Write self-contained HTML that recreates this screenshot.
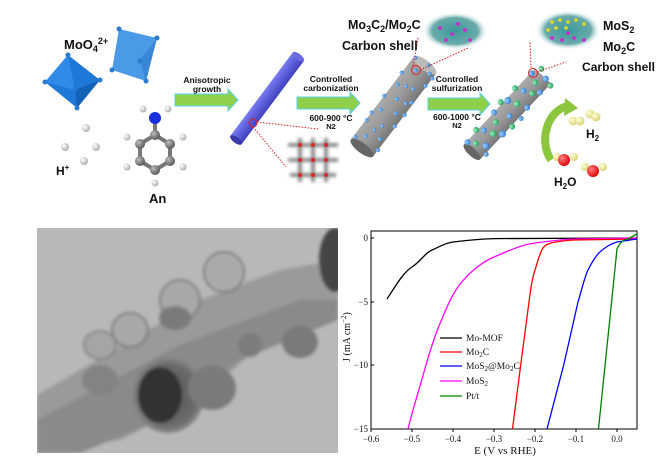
<!DOCTYPE html>
<html><head><meta charset="utf-8"><style>
html,body{margin:0;padding:0;background:#fff;}
svg{display:block;}
text{font-family:"Liberation Sans",sans-serif;}
text.b,.b text{font-weight:bold;fill:#111;}
text.m,.m text{font-family:"Liberation Serif",serif;fill:#111;font-weight:normal;}
</style></head><body>
<svg width="656" height="461" viewBox="0 0 656 461" xmlns="http://www.w3.org/2000/svg">
<defs>
<radialGradient id="bl" cx="0.35" cy="0.35" r="0.7"><stop offset="0" stop-color="#9fd0ff"/><stop offset="1" stop-color="#2a7ad0"/></radialGradient>
<radialGradient id="gr" cx="0.35" cy="0.35" r="0.7"><stop offset="0" stop-color="#a0f0c0"/><stop offset="1" stop-color="#1a9a55"/></radialGradient>
<radialGradient id="wh" cx="0.35" cy="0.35" r="0.7"><stop offset="0" stop-color="#fff"/><stop offset="1" stop-color="#aaa"/></radialGradient>
<radialGradient id="gy" cx="0.35" cy="0.35" r="0.7"><stop offset="0" stop-color="#bbb"/><stop offset="1" stop-color="#555"/></radialGradient>
<radialGradient id="ye" cx="0.35" cy="0.35" r="0.7"><stop offset="0" stop-color="#ffffd8"/><stop offset="1" stop-color="#d8d070"/></radialGradient>
<radialGradient id="rd" cx="0.35" cy="0.35" r="0.7"><stop offset="0" stop-color="#ff8080"/><stop offset="1" stop-color="#d00"/></radialGradient>
<radialGradient id="cl" cx="0.5" cy="0.5" r="0.5"><stop offset="0" stop-color="#3a9a9a"/><stop offset="0.7" stop-color="#6aaaaa"/><stop offset="1" stop-color="#fff" stop-opacity="0"/></radialGradient>
<radialGradient id="tem" cx="0.5" cy="0.5" r="0.5"><stop offset="0" stop-color="#555"/><stop offset="0.8" stop-color="#6a6a6a"/><stop offset="1" stop-color="#888"/></radialGradient>
<linearGradient id="tube" x1="0" y1="0" x2="0" y2="1"><stop offset="0" stop-color="#aaa"/><stop offset="0.5" stop-color="#999"/><stop offset="1" stop-color="#777"/></linearGradient>
<linearGradient id="rod" x1="0" y1="0" x2="0" y2="1"><stop offset="0" stop-color="#7a7af0"/><stop offset="1" stop-color="#4040c0"/></linearGradient>
<filter id="bf"><feGaussianBlur stdDeviation="1.5"/></filter>
</defs>

<!-- octahedra -->
<polygon points="45,82 68,55 100,80 77,108" fill="#1e78d8"/>
<polygon points="45,82 68,55 75,90" fill="#2f8ae8"/>
<polygon points="75,90 100,80 77,108" fill="#1462b8"/>
<g fill="#2a7ad0"><circle cx="45" cy="82" r="2.5"/><circle cx="68" cy="55" r="2.5"/><circle cx="100" cy="80" r="2.5"/><circle cx="77" cy="108" r="2.5"/><circle cx="75" cy="89" r="2.5"/></g>
<polygon points="112,70 119,29 157,38 146,81" fill="#4a9ae8"/>
<polygon points="140,60 157,38 146,81" fill="#3a86d6"/>
<g fill="#2a7ad0"><circle cx="112" cy="70" r="2.5"/><circle cx="119" cy="29" r="2.5"/><circle cx="157" cy="38" r="2.5"/><circle cx="146" cy="81" r="2.5"/><circle cx="140" cy="61" r="2.5"/></g>
<text class="b" x="64" y="49" font-size="13">MoO<tspan font-size="9" dy="3">4</tspan><tspan font-size="9" dy="-8">2+</tspan></text>
<!-- H+ -->
<g fill="url(#wh)"><circle cx="86" cy="128" r="4"/><circle cx="65" cy="147" r="4"/><circle cx="96" cy="147" r="4"/><circle cx="84" cy="161" r="4"/></g>
<text class="b" x="56" y="175" font-size="12">H<tspan font-size="8" dy="-5">+</tspan></text>
<!-- aniline -->
<g stroke="#777" stroke-width="4" fill="none"><polygon points="155,135 170,144 170,161 155,170 140,161 140,144"/><line x1="155" y1="135" x2="155" y2="120"/></g>
<g fill="url(#wh)"><circle cx="183" cy="137" r="3.5"/><circle cx="127" cy="137" r="3.5"/><circle cx="183" cy="167" r="3.5"/><circle cx="127" cy="167" r="3.5"/><circle cx="155" cy="183" r="3.5"/><circle cx="143" cy="109" r="3.5"/><circle cx="168" cy="109" r="3.5"/></g>
<g fill="url(#gy)"><circle cx="155" cy="135" r="5"/><circle cx="170" cy="144" r="5"/><circle cx="170" cy="161" r="5"/><circle cx="155" cy="170" r="5"/><circle cx="140" cy="161" r="5"/><circle cx="140" cy="144" r="5"/></g>
<circle cx="155" cy="118" r="6" fill="#1a2ee0"/>
<text class="b" x="149" y="203" font-size="13">An</text>

<!-- arrows -->
<g fill="#8fcf4a" stroke="#5ad0ea" stroke-width="1">
<polygon points="175,94 228,94 228,89 238,100 228,111 228,106 175,106"/>
<polygon points="297,97 350,97 350,92 360,103 350,114 350,109 297,109"/>
<polygon points="428,98 480,98 480,93 490,104 480,115 480,110 428,110"/>
</g>
<g class="b" font-size="8.5" text-anchor="middle">
<text x="207" y="83">Anisotropic</text><text x="207" y="92">growth</text>
<text x="331" y="82">Controlled</text><text x="331" y="91">carbonization</text>
<text x="331" y="121">600-900 °C</text><text x="331" y="129" font-size="7.5">N2</text>
<text x="457" y="82">Controlled</text><text x="457" y="91">sulfurization</text>
<text x="457" y="120">600-1000 °C</text><text x="457" y="128" font-size="7.5">N2</text>
</g>

<!-- purple rod -->
<g transform="translate(236,140) rotate(-53.2)">
<rect x="0" y="-7" width="104" height="14" fill="url(#rod)"/>
<ellipse cx="104" cy="0" rx="3" ry="7" fill="#6a6ae0"/>
<ellipse cx="0" cy="0" rx="3" ry="7" fill="#3838a8"/>
</g>
<circle cx="253" cy="123" r="4" fill="none" stroke="#e02020" stroke-width="1"/>
<g stroke="#e02020" stroke-width="1" stroke-dasharray="1.5,1.5"><line x1="257" y1="122" x2="318" y2="129"/><line x1="253" y1="127" x2="286" y2="167"/></g>
<!-- lattice -->
<g filter="url(#bf)">
<g stroke="#777" stroke-width="4" opacity="0.85">
<line x1="288" y1="145" x2="338" y2="145"/><line x1="288" y1="160" x2="338" y2="160"/><line x1="290" y1="175" x2="336" y2="175"/>
<line x1="300" y1="138" x2="300" y2="182"/><line x1="313" y1="138" x2="313" y2="182"/><line x1="326" y1="138" x2="326" y2="182"/>
</g>
</g>
<g fill="#d03030"><circle cx="300" cy="145" r="2.2"/><circle cx="313" cy="145" r="2.2"/><circle cx="326" cy="145" r="2.2"/><circle cx="300" cy="160" r="2.2"/><circle cx="313" cy="160" r="2.2"/><circle cx="326" cy="160" r="2.2"/><circle cx="300" cy="175" r="2.2"/><circle cx="313" cy="175" r="2.2"/><circle cx="326" cy="175" r="2.2"/></g>

<!-- grey tube 1 -->
<g transform="translate(362,148) rotate(-52.8)">
<rect x="0" y="-14" width="104" height="28" fill="url(#tube)"/>
<ellipse cx="104" cy="0" rx="5" ry="14" fill="#bbb"/>
<ellipse cx="0" cy="0" rx="5" ry="14" fill="#666"/>
<g fill="url(#bl)">
<circle cx="5" cy="-12" r="2"/><circle cx="12" cy="-4" r="2"/><circle cx="18" cy="9" r="2"/><circle cx="25" cy="-13" r="2"/><circle cx="30" cy="3" r="2"/><circle cx="37" cy="13" r="2"/><circle cx="42" cy="-8" r="2"/><circle cx="48" cy="6" r="2"/><circle cx="55" cy="-14" r="2"/><circle cx="60" cy="-2" r="2"/><circle cx="66" cy="12" r="2"/><circle cx="72" cy="-10" r="2"/><circle cx="78" cy="5" r="2"/><circle cx="84" cy="-14" r="2"/><circle cx="88" cy="13" r="2"/><circle cx="94" cy="-4" r="2"/><circle cx="100" cy="9" r="2"/><circle cx="104" cy="-12" r="2"/><circle cx="8" cy="14" r="2"/><circle cx="22" cy="-1" r="2"/><circle cx="52" cy="14" r="2"/><circle cx="76" cy="-2" r="2"/><circle cx="98" cy="14" r="2"/><circle cx="106" cy="3" r="2"/><circle cx="34" cy="-14" r="2"/><circle cx="62" cy="8" r="2"/>
</g>
</g>
<circle cx="416" cy="70" r="4.5" fill="none" stroke="#e02020" stroke-width="1"/>
<g stroke="#e02020" stroke-width="1" stroke-dasharray="1.5,1.5"><line x1="413" y1="66" x2="418" y2="38"/><line x1="420" y1="70" x2="468" y2="48"/></g>
<ellipse cx="455" cy="31" rx="33" ry="19" fill="url(#cl)"/>
<g fill="#d020d0"><circle cx="440" cy="28" r="1.8"/><circle cx="452" cy="34" r="1.8"/><circle cx="465" cy="30" r="1.8"/><circle cx="446" cy="40" r="1.8"/><circle cx="470" cy="40" r="1.8"/><circle cx="458" cy="24" r="1.8"/></g>
<text class="b" x="348" y="29" font-size="12.5">Mo<tspan font-size="9" dy="3">3</tspan><tspan dy="-3">C</tspan><tspan font-size="9" dy="3">2</tspan><tspan dy="-3">/Mo</tspan><tspan font-size="9" dy="3">2</tspan><tspan dy="-3">C</tspan></text>
<text class="b" x="342" y="50" font-size="12.5">Carbon shell</text>

<!-- tube 2 -->
<g transform="translate(472,152) rotate(-47)">
<rect x="0" y="-11" width="104" height="22" fill="url(#tube)"/>
<ellipse cx="0" cy="0" rx="4" ry="11" fill="#666"/>
<g fill="url(#bl)">
<circle cx="4" cy="-10" r="3"/><circle cx="14" cy="6" r="3.5"/><circle cx="24" cy="-6" r="3"/><circle cx="34" cy="10" r="3.5"/><circle cx="44" cy="-11" r="3"/><circle cx="52" cy="3" r="3"/><circle cx="62" cy="-9" r="3.5"/><circle cx="70" cy="10" r="3"/><circle cx="80" cy="-4" r="3"/><circle cx="90" cy="9" r="3"/><circle cx="98" cy="-10" r="3"/><circle cx="104" cy="4" r="3"/><circle cx="8" cy="12" r="2.5"/><circle cx="58" cy="13" r="2.5"/>
</g>
<g fill="url(#gr)">
<circle cx="9" cy="-3" r="3"/><circle cx="19" cy="-12" r="3"/><circle cx="28" cy="3" r="3.5"/><circle cx="38" cy="-3" r="3"/><circle cx="46" cy="12" r="3"/><circle cx="56" cy="-13" r="3"/><circle cx="66" cy="0" r="3.5"/><circle cx="76" cy="-12" r="3"/><circle cx="84" cy="4" r="3"/><circle cx="94" cy="-1" r="3"/><circle cx="102" cy="12" r="3"/><circle cx="108" cy="-6" r="3"/>
</g>
</g>
<circle cx="533" cy="73" r="4.5" fill="none" stroke="#e02020" stroke-width="1"/>
<g stroke="#e02020" stroke-width="1" stroke-dasharray="1.5,1.5"><line x1="531" y1="68" x2="530" y2="42"/><line x1="537" y1="72" x2="566" y2="62"/></g>
<ellipse cx="568" cy="30" rx="33" ry="20" fill="url(#cl)"/>
<g fill="#e8d820"><circle cx="552" cy="22" r="1.8"/><circle cx="560" cy="20" r="1.8"/><circle cx="568" cy="22" r="1.8"/><circle cx="576" cy="20" r="1.8"/><circle cx="556" cy="28" r="1.8"/><circle cx="566" cy="28" r="1.8"/><circle cx="584" cy="24" r="1.8"/><circle cx="548" cy="30" r="1.8"/></g>
<g fill="#d020d0"><circle cx="552" cy="38" r="1.8"/><circle cx="562" cy="40" r="1.8"/><circle cx="574" cy="38" r="1.8"/><circle cx="584" cy="40" r="1.8"/><circle cx="568" cy="33" r="1.8"/></g>
<text class="b" x="603" y="30" font-size="12.5">MoS<tspan font-size="9" dy="3">2</tspan></text>
<text class="b" x="603" y="51" font-size="12.5">Mo<tspan font-size="9" dy="3">2</tspan><tspan dy="-3">C</tspan></text>
<text class="b" x="582" y="71" font-size="12" textLength="73">Carbon shell</text>

<!-- curved arrow -->
<path d="M551,160 C538,140 548,110 568,106" stroke="#8cc63e" stroke-width="8" fill="none"/>
<polygon points="565,98 578,108 564,116" fill="#8cc63e"/>
<g fill="url(#ye)"><circle cx="573" cy="121" r="4.5"/><circle cx="580" cy="121" r="4.5"/><circle cx="590" cy="114" r="4.5"/><circle cx="596" cy="117" r="4.5"/></g>
<text class="b" x="586" y="138" font-size="12">H<tspan font-size="8" dy="3">2</tspan></text>
<g fill="url(#ye)"><circle cx="557" cy="157" r="4"/><circle cx="574" cy="157" r="4"/><circle cx="585" cy="167" r="4"/><circle cx="603" cy="167" r="4"/></g>
<circle cx="564" cy="160" r="6" fill="url(#rd)"/>
<circle cx="593" cy="171" r="6" fill="url(#rd)"/>
<text class="b" x="554" y="186" font-size="12">H<tspan font-size="8" dy="3">2</tspan><tspan dy="-3">O</tspan></text>

<!-- TEM image -->
<svg x="37" y="228" width="301" height="225" viewBox="37 228 301 225">
<rect x="37" y="228" width="301" height="225" fill="#b8b8b8"/>
<g filter="url(#bf)">
<path d="M37,395 L200,300 L280,270 L338,260 L338,310 L260,345 L200,400 L120,440 L37,453 Z" fill="#9a9a9a"/>
<path d="M37,420 L180,345 L300,300 L338,300 L338,320 L240,360 L160,420 L80,453 L37,453Z" fill="#8a8a8a"/>
<ellipse cx="168" cy="395" rx="36" ry="38" fill="url(#tem)"/>
<ellipse cx="160" cy="395" rx="22" ry="28" fill="#333"/>
<ellipse cx="212" cy="388" rx="24" ry="22" fill="#7a7a7a"/>
<ellipse cx="300" cy="342" rx="18" ry="16" fill="#7a7a7a"/>
<ellipse cx="250" cy="345" rx="12" ry="12" fill="#7c7c7c"/>
<ellipse cx="100" cy="380" rx="18" ry="15" fill="#838383"/>
<ellipse cx="335" cy="260" rx="16" ry="32" fill="#444"/>
<ellipse cx="130" cy="330" rx="18" ry="17" fill="#a8a8a8" stroke="#666" stroke-width="1.5"/>
<ellipse cx="180" cy="300" rx="20" ry="20" fill="#a8a8a8" stroke="#666" stroke-width="1.5"/>
<ellipse cx="224" cy="272" rx="20" ry="20" fill="#aaa" stroke="#666" stroke-width="1.5"/>
<ellipse cx="175" cy="318" rx="16" ry="12" fill="#7a7a7a"/>
<ellipse cx="100" cy="345" rx="16" ry="14" fill="#a5a5a5" stroke="#777" stroke-width="1.5"/>
</g>
</svg>

<!-- plot -->
<rect x="371" y="231" width="266" height="198" fill="none" stroke="#000" stroke-width="1"/>
<g stroke="#000" stroke-width="1">
<line x1="371" y1="429" x2="371" y2="432"/><line x1="412" y1="429" x2="412" y2="432"/><line x1="453" y1="429" x2="453" y2="432"/><line x1="494" y1="429" x2="494" y2="432"/><line x1="535" y1="429" x2="535" y2="432"/><line x1="576" y1="429" x2="576" y2="432"/><line x1="617" y1="429" x2="617" y2="432"/>
<line x1="371" y1="238" x2="374" y2="238"/><line x1="371" y1="302" x2="374" y2="302"/><line x1="371" y1="365" x2="374" y2="365"/><line x1="371" y1="429" x2="374" y2="429"/>
</g>
<g class="m" font-size="9" text-anchor="middle">
<text x="371" y="442">−0.6</text><text x="412" y="442">−0.5</text><text x="453" y="442">−0.4</text><text x="494" y="442">−0.3</text><text x="535" y="442">−0.2</text><text x="576" y="442">−0.1</text><text x="617" y="442">0.0</text>
</g>
<g class="m" font-size="9" text-anchor="end">
<text x="368" y="241">0</text><text x="368" y="305">−5</text><text x="368" y="368">−10</text><text x="368" y="432">−15</text>
</g>
<text class="m" x="505" y="454" font-size="11" text-anchor="middle">E (V vs RHE)</text>
<text class="m" font-size="10" text-anchor="middle" transform="translate(350,337) rotate(-90)">J (mA cm<tspan font-size="7" dy="-4">−2</tspan><tspan dy="4">)</tspan></text>
<g fill="none" stroke-width="1.3">
<path d="M387,299 C398,282 404,272 412,267 S425,253 432,250 S445,243 453,242 S480,239 494,238.6 L637,238" stroke="#000"/>
<path d="M408,429 C414,405 419,390 424,372 S435,335 441,321 S452,294 461,283 S482,262 494,257 S520,245 535,243 S565,239 576,239 L637,238" stroke="#ff00ff"/>
<path d="M512.5,429 L520.7,365 L529,302 C531,285 533,276 535,270 S540,252 543,248 S550,243 556,242 S570,240 576,240 L637,239" stroke="#ff0000"/>
<path d="M547,429 L563.7,365 L578,302 C583,285 585,276 588,270 S596,255 601,251 S610,244 617,242 L637,239" stroke="#0000ff"/>
<path d="M598.5,429 L609,327 L617,249 C619,244 622,240 628,239 L637,234" stroke="#008000"/>
</g>
<g stroke-width="1.3">
<line x1="440" y1="338" x2="462" y2="338" stroke="#000"/>
<line x1="440" y1="352" x2="462" y2="352" stroke="#f00"/>
<line x1="440" y1="366" x2="462" y2="366" stroke="#00f"/>
<line x1="440" y1="381" x2="462" y2="381" stroke="#f0f"/>
<line x1="440" y1="396" x2="462" y2="396" stroke="#008000"/>
</g>
<g class="m" font-size="9.5">
<text x="466" y="341">Mo-MOF</text>
<text x="466" y="355">Mo<tspan font-size="7" dy="2">2</tspan><tspan dy="-2">C</tspan></text>
<text x="466" y="369">MoS<tspan font-size="7" dy="2">2</tspan><tspan dy="-2">@Mo</tspan><tspan font-size="7" dy="2">2</tspan><tspan dy="-2">C</tspan></text>
<text x="466" y="384">MoS<tspan font-size="7" dy="2">2</tspan></text>
<text x="466" y="399">Pt/t</text>
</g>
</svg>
</body></html>
